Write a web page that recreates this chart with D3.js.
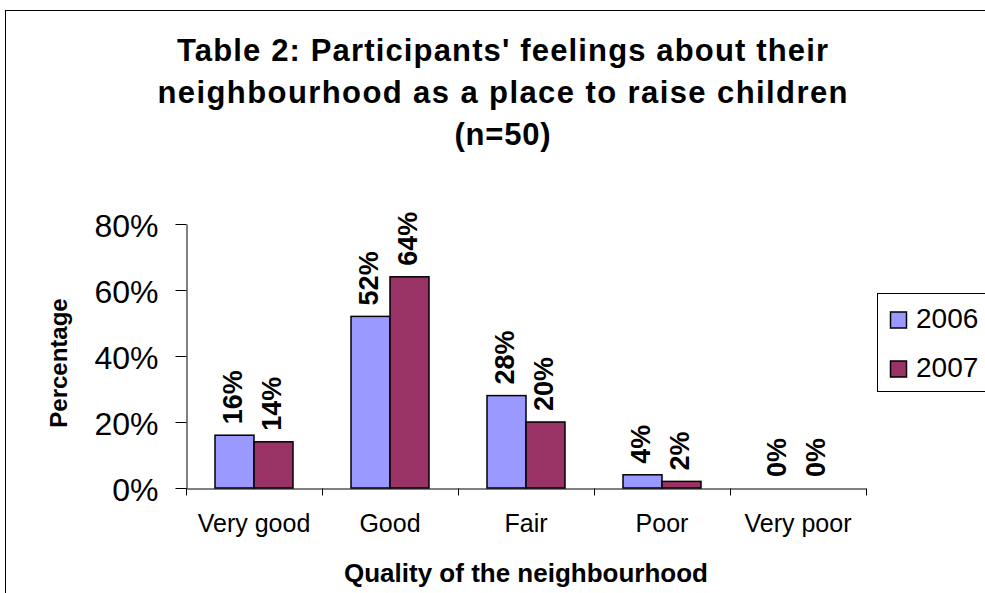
<!DOCTYPE html>
<html>
<head>
<meta charset="utf-8">
<script src="https://cdn.jsdelivr.net/npm/d3@7"></script>
<style>
  html, body { margin: 0; padding: 0; background: #fff; }
  svg { display: block; font-family: "Liberation Sans", Arial, sans-serif; }
</style>
</head>
<body>
<svg id="chart" width="985" height="593"></svg>
<script>
// Survey results: rating of the neighbourhood, two survey years
const categories = ["Very good", "Good", "Fair", "Poor", "Very poor"];
const seriesNames = ["2006", "2007"];
const values2006 = [0.16, 0.52, 0.28, 0.04, 0.00];
const values2007 = [0.14, 0.64, 0.20, 0.02, 0.00];
const yTicks = [0, 0.2, 0.4, 0.6, 0.8];
const titleLines = [
  "Table 2: Participants' feelings about their",
  "neighbourhood as a place to raise children",
  "(n=50)"
];
const xTitle = "Quality of the neighbourhood";
const yTitle = "Percentage";
const colors = ["#9999FF", "#993366"];

const seriesValues = [values2006, values2007];

const svg = d3.select("#chart");

// outer chart frame
svg.append("rect")
  .attr("x", 5.5).attr("y", 10.5)
  .attr("width", 1000).attr("height", 620)
  .attr("fill", "#fff").attr("stroke", "#000").attr("stroke-width", 1);

// title, three centred lines
const titleWidths = [651, 690, 96];
svg.append("g").selectAll("text")
  .data(titleLines)
  .join("text")
  .attr("x", 502.5)
  .attr("y", (d, i) => 61 + i * 42)
  .attr("text-anchor", "middle")
  .attr("font-size", 31)
  .attr("font-weight", "bold")
  .attr("textLength", (d, i) => titleWidths[i])
  .attr("lengthAdjust", "spacing")
  .text(d => d);

// scales
const plotLeft = 186, plotRight = 866, plotTop = 224, plotBottom = 488;
const x = d3.scaleBand().domain(categories).range([plotLeft, plotRight]).padding(0);
const xSub = d3.scaleBand().domain(seriesNames).range([0, x.bandwidth()])
  .paddingInner(0).paddingOuter(0.744);
const y = d3.scaleLinear().domain([0, 0.8]).range([plotBottom, plotTop]);
const xEdge = d3.scaleLinear().domain([0, categories.length]).range([plotLeft, plotRight]);

// bars
const groups = svg.append("g").selectAll("g")
  .data(categories)
  .join("g")
  .attr("transform", d => `translate(${x(d)},0)`);

groups.selectAll("rect")
  .data((c, ci) => seriesNames.map((s, si) => ({ s, si, v: seriesValues[si][ci] })))
  .join("rect")
  .attr("x", d => xSub(d.s))
  .attr("y", d => y(d.v))
  .attr("width", xSub.bandwidth())
  .attr("height", d => y(0) - y(d.v))
  .attr("fill", d => colors[d.si])
  .attr("stroke", "#000")
  .attr("stroke-width", 1.5);

// value labels, rotated, above each bar
groups.selectAll("text")
  .data((c, ci) => seriesNames.map((s, si) => ({ s, si, v: seriesValues[si][ci] })))
  .join("text")
  .attr("transform", d => `translate(${xSub(d.s) + xSub.bandwidth() / 2 - 2},${y(d.v) - 11}) rotate(-90)`)
  .attr("dy", "0.35em")
  .attr("text-anchor", "start")
  .attr("font-size", 27)
  .attr("font-weight", "bold")
  .text(d => d3.format(".0%")(d.v));

// y axis
const yAxis = svg.append("g")
  .attr("transform", `translate(${plotLeft + 0.5},0)`)
  .call(d3.axisLeft(y).tickValues(yTicks).tickSize(11).tickSizeOuter(0)
    .tickPadding(17).tickFormat(d3.format(".0%")));
yAxis.selectAll("text").attr("font-size", 32).attr("font-family", "Liberation Sans, Arial, sans-serif")
  .attr("fill", "#000").attr("dy", "0.4em");
yAxis.selectAll("line, path").attr("stroke", "#000");

// x axis: tick marks on category boundaries
const xAxis = svg.append("g")
  .attr("transform", `translate(0,${plotBottom + 0.5})`)
  .call(d3.axisBottom(xEdge).tickValues(d3.range(categories.length + 1))
    .tickSize(7).tickSizeOuter(0).tickFormat(""));
xAxis.selectAll("line, path").attr("stroke", "#000");

// x category labels
const xLabels = svg.append("g")
  .attr("transform", `translate(0,${plotBottom})`)
  .call(d3.axisBottom(x).tickSize(0).tickPadding(0));
xLabels.select(".domain").remove();
xLabels.selectAll("text")
  .attr("y", 44).attr("dy", 0)
  .attr("font-size", 25)
  .attr("font-family", "Liberation Sans, Arial, sans-serif")
  .attr("fill", "#000");

// axis titles
svg.append("text")
  .attr("x", (plotLeft + plotRight) / 2)
  .attr("y", 582)
  .attr("text-anchor", "middle")
  .attr("font-size", 26)
  .attr("font-weight", "bold")
  .text(xTitle);

svg.append("text")
  .attr("transform", "translate(67,363) rotate(-90)")
  .attr("text-anchor", "middle")
  .attr("font-size", 24)
  .attr("font-weight", "bold")
  .text(yTitle);

// legend
const legend = svg.append("g");
legend.append("rect")
  .attr("x", 877.5).attr("y", 293.5)
  .attr("width", 140).attr("height", 98)
  .attr("fill", "#fff").attr("stroke", "#000").attr("stroke-width", 1);
const items = legend.selectAll("g.item")
  .data(seriesNames)
  .join("g")
  .attr("class", "item")
  .attr("transform", (d, i) => `translate(0,${i * 49})`);
items.append("rect")
  .attr("x", 890.5).attr("y", 312)
  .attr("width", 16).attr("height", 16)
  .attr("fill", (d, i) => colors[i])
  .attr("stroke", "#000").attr("stroke-width", 1.5);
items.append("text")
  .attr("x", 916).attr("y", 327.5)
  .attr("font-size", 28)
  .text(d => d);
</script>
</body>
</html>
